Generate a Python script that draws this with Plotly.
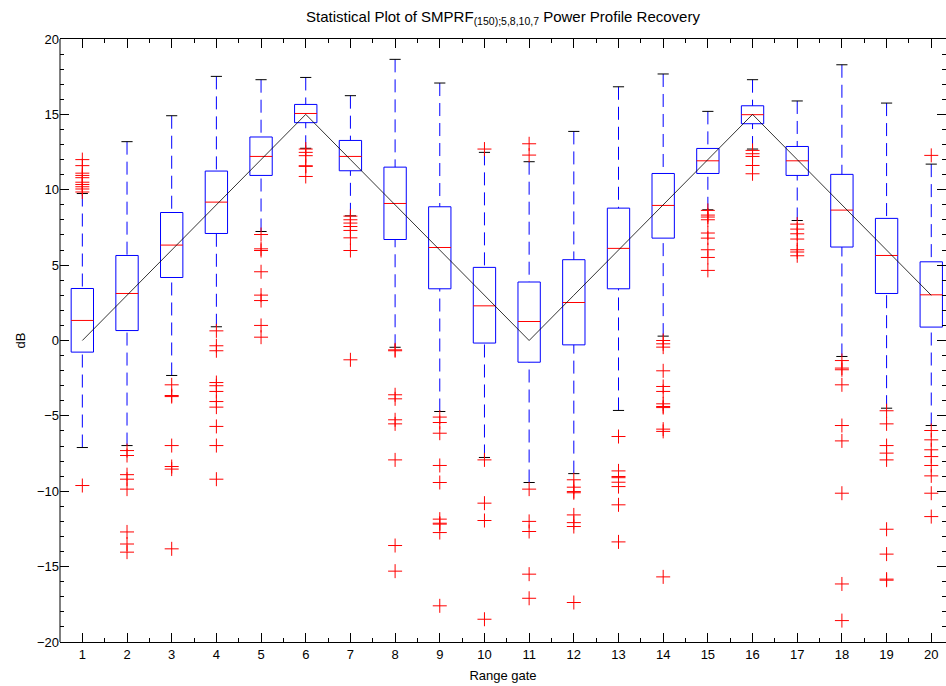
import plotly.graph_objects as go

# Range gates and the simulated (true) power profile in dB
gates = list(range(1, 21))
true_profile = [0, 3, 6, 9, 12, 15, 12, 9, 6, 3, 0, 3, 6, 9, 12, 15, 12, 9, 6, 3]

# Box statistics of the recovered profile per gate (dB)
upper_whisker = [9.75, 13.19, 14.91, 17.52, 17.3, 17.45, 16.24, 18.65, 17.08, 12.48,
                 11.86, 13.87, 16.83, 17.68, 15.2, 17.3, 15.89, 18.29, 15.75, 11.7]
q3 = [3.45, 5.64, 8.49, 11.24, 13.5, 15.66, 13.27, 11.5, 8.87, 4.85,
      3.88, 5.36, 8.78, 11.08, 12.74, 15.57, 12.87, 11.02, 8.1, 5.22]
median = [1.33, 3.12, 6.33, 9.18, 12.21, 15.06, 12.21, 9.09, 6.17, 2.3,
          1.26, 2.52, 6.11, 8.96, 11.92, 14.98, 11.92, 8.65, 5.64, 3.03]
q1 = [-0.77, 0.66, 4.18, 7.1, 10.95, 14.45, 11.26, 6.7, 3.43, -0.17,
      -1.44, -0.29, 3.43, 6.79, 11.08, 14.38, 10.95, 6.2, 3.12, 0.89]
lower_whisker = [-7.1, -6.97, -2.32, 0.91, 7.23, 12.75, 8.27, -0.45, -4.71, -7.76,
                 -9.42, -8.83, -4.64, 0.29, 8.67, 12.7, 7.96, -1.06, -4.49, -5.64]

# Outliers per gate (dB)
outliers = [
    [12.0, 11.6, 11.1, 10.95, 10.8, 10.5, 10.35, 10.2, 10.05, 9.85, -9.62],
    [-7.3, -7.63, -8.9, -9.2, -9.86, -12.7, -13.5, -14.04],
    [-2.94, -3.65, -3.72, -6.97, -8.36, -8.53, -13.82],
    [0.64, -0.35, -0.68, -2.79, -3.0, -3.38, -4.05, -4.42, -5.7, -6.97, -9.2],
    [7.03, 6.08, 5.97, 4.56, 3.01, 2.65, 1.0, 0.22],
    [12.7, 12.48, 12.26, 11.59, 11.55, 10.88],
    [8.25, 8.01, 7.79, 7.56, 7.3, 6.81, 5.97, -1.28],
    [-0.62, -0.68, -3.6, -3.87, -5.26, -5.53, -7.92, -13.6, -15.3],
    [-5.08, -5.44, -6.15, -8.29, -9.42, -11.85, -12.12, -12.18, -12.74, -17.6],
    [12.7, -7.92, -10.79, -11.94, -18.49],
    [13.05, 12.3, -9.86, -12.0, -12.67, -15.5, -17.1],
    [-9.24, -9.73, -10.02, -10.1, -11.57, -12.08, -12.34, -17.38],
    [-6.37, -8.65, -9.02, -9.1, -9.4, -9.69, -10.9, -13.36],
    [0.0, -0.22, -0.44, -2.01, -3.05, -3.38, -4.2, -4.38, -4.45, -5.88, -6.03, -15.68],
    [8.63, 8.32, 8.19, 8.01, 7.13, 6.79, 6.02, 5.51, 4.65],
    [12.61, 12.39, 12.21, 11.61, 11.06],
    [7.72, 7.39, 7.08, 6.73, 6.02, 5.87, 5.62],
    [-1.33, -1.83, -1.94, -2.94, -5.64, -6.66, -10.13, -16.15, -18.58],
    [-4.66, -5.53, -6.97, -7.47, -7.92, -12.52, -14.17, -15.83, -15.9],
    [12.28, -5.97, -6.59, -7.25, -7.7, -8.29, -8.98, -10.13, -11.68],
]

x_ticklabels = [str(g) for g in gates]
y_ticks = [-20, -15, -10, -5, 0, 5, 10, 15, 20]

BOX_HALF = 0.25
CAP_HALF = 0.125
FONT = "Liberation Sans, Arial, sans-serif"

box_x, box_y = [], []
med_x, med_y = [], []
wh_x, wh_y = [], []
cap_x, cap_y = [], []
out_x, out_y = [], []
for i, g in enumerate(gates):
    l, r = g - BOX_HALF, g + BOX_HALF
    box_x += [l, r, r, l, l, None]
    box_y += [q1[i], q1[i], q3[i], q3[i], q1[i], None]
    med_x += [l, r, None]
    med_y += [median[i], median[i], None]
    wh_x += [g, g, None, g, g, None]
    wh_y += [upper_whisker[i], q3[i], None, lower_whisker[i], q1[i], None]
    for v in (upper_whisker[i], lower_whisker[i]):
        cap_x += [g - CAP_HALF, g + CAP_HALF, None]
        cap_y += [v, v, None]
    out_x += [g] * len(outliers[i])
    out_y += outliers[i]

fig = go.Figure()
fig.add_trace(go.Scatter(x=wh_x, y=wh_y, mode="lines",
                         line=dict(color="#0000ff", width=1, dash="13px,7px"),
                         hoverinfo="skip"))
fig.add_trace(go.Scatter(x=cap_x, y=cap_y, mode="lines",
                         line=dict(color="black", width=1), hoverinfo="skip"))
fig.add_trace(go.Scatter(x=box_x, y=box_y, mode="lines",
                         line=dict(color="#0000ff", width=1), hoverinfo="skip"))
fig.add_trace(go.Scatter(x=med_x, y=med_y, mode="lines",
                         line=dict(color="#ff0000", width=1), hoverinfo="skip"))
fig.add_trace(go.Scatter(x=gates, y=true_profile, mode="lines",
                         line=dict(color="black", width=0.8), name="True profile"))
fig.add_trace(go.Scatter(x=out_x, y=out_y, mode="markers",
                         marker=dict(symbol="cross-thin", size=10,
                                     line=dict(color="#ff0000", width=1)),
                         name="Outliers"))

# Left axis spine (the right side carries ticks only)
fig.add_shape(type="line", xref="paper", yref="paper", x0=0, x1=0, y0=0, y1=1,
              line=dict(color="black", width=1), layer="above")

fig.update_layout(
    width=946, height=686,
    margin=dict(l=60, r=0, t=39, b=44),
    paper_bgcolor="white", plot_bgcolor="white",
    showlegend=False,
    font=dict(family=FONT, size=13, color="black"),
    title=dict(
        text="Statistical Plot of SMPRF<sub>(150);5,8,10,7</sub> Power Profile Recovery",
        font=dict(family=FONT, size=15, color="black"),
        x=0.5, xref="paper", xanchor="center",
        y=1 - 17 / 686, yref="container", yanchor="middle",
    ),
)
fig.update_xaxes(
    range=[0.5, 20.33], tickmode="array", tickvals=gates, ticktext=x_ticklabels,
    ticks="inside", ticklen=9, tickcolor="black", tickwidth=1,
    minor=dict(dtick=0.5, tick0=0.5, ticks="inside", ticklen=4, tickcolor="black"),
    showline=True, linecolor="black", linewidth=1, mirror="ticks",
    showgrid=False, zeroline=False,
    title=dict(text="Range gate", standoff=10, font=dict(size=13)),
)
fig.update_yaxes(
    range=[-20, 20], tickmode="array", tickvals=y_ticks,
    ticks="inside", ticklen=9, tickcolor="black", tickwidth=1,
    minor=dict(dtick=1, ticks="inside", ticklen=4, tickcolor="black"),
    showline=False, mirror="ticks",
    showgrid=False, zeroline=False,
    title=dict(text="dB", standoff=8, font=dict(size=13)),
)

fig.write_html("out.html")
